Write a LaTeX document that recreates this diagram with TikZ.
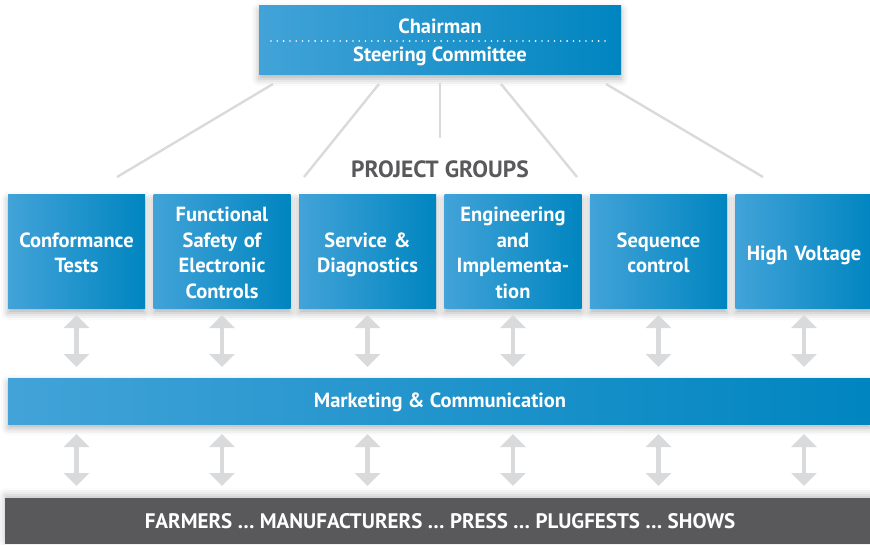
\documentclass[tikz,border=0pt]{standalone}
\usepackage{fontspec}
\setmainfont{PT Sans}
\usetikzlibrary{arrows.meta,shadows.blur}
\definecolor{bluel}{HTML}{42A3D8}
\definecolor{bluer}{HTML}{0085C0}
\definecolor{lgray}{HTML}{D9DADB}
\definecolor{dgray}{HTML}{59595B}
\tikzset{
  bluebox/.style={rectangle, left color=bluel, right color=bluer, text=white,
    font=\bfseries\fontsize{20.5}{25.5}\selectfont, align=center, inner sep=0pt,
    blur shadow={shadow xshift=0pt, shadow yshift=-4pt, shadow blur radius=7pt, shadow opacity=30}},
  groupbox/.style={bluebox, minimum width=137pt, minimum height=114pt, text width=134pt,
    execute at begin node={\rule{0pt}{23.9pt}}, execute at end node=\strut},
  whitetext/.style={text=white, font=\bfseries\fontsize{20.5}{22}\selectfont, inner sep=0pt},
  branch/.style={draw=lgray, line width=2.4pt},
  dblarrow/.style={draw=lgray, line width=4.5pt, {Triangle[width=25pt,length=13pt]}-{Triangle[width=25pt,length=13pt]}},
}
\begin{document}
\begin{tikzpicture}[x=1pt,y=-1pt]
\useasboundingbox (0,0) rectangle (870,545);
% top box
\node[bluebox, minimum width=362pt, minimum height=69pt] (top) at (440,40.5) {};
\node[whitetext] (chair) at (440,26.5) {Chairman};
\node[whitetext] (steer) at (440,56) {Steering Committee};
\coordinate (dl) at (271,41);
\coordinate (dr) at (610,41);
\draw[white, line width=1.8pt, line cap=round, dash pattern=on 0pt off 6.3pt] (dl) -- (dr);
% project groups label
\node[text=dgray, font=\bfseries\fontsize{23.5}{25}\selectfont, inner sep=0pt] (pg) at (440,169) {PROJECT GROUPS};
% group boxes
\foreach \i/\t in {0/{Conformance\\Tests},1/{Functional\\Safety of\\Electronic\\Controls},2/{Service \&\\Diagnostics},3/{Engineering\\and\\Implementa-\\tion},4/{Sequence\\control},5/{High Voltage}}{
  \node[groupbox] (g\i) at ({76.5+145.5*\i},252) {\t};
}
% branch lines
\coordinate (b1s) at (273,84); \coordinate (b1e) at (117,177);
\coordinate (b2s) at (379,84); \coordinate (b2e) at (304,177);
\coordinate (b3s) at (440,83); \coordinate (b3e) at (440,138);
\coordinate (b4s) at (501,84); \coordinate (b4e) at (577,177);
\coordinate (b5s) at (606,84); \coordinate (b5e) at (763,177);
\foreach \k in {1,...,5}{\draw[branch] (b\k s) -- (b\k e);}
% marketing bar
\node[bluebox, minimum width=862pt, minimum height=46pt, anchor=north west] (mkt) at (8,378) {};
\node[whitetext] (mkttext) at (440,402) {Marketing \& Communication};
% bottom bar
\node[rectangle, fill=dgray, minimum width=870pt, minimum height=46pt, anchor=north west, inner sep=0pt,
  blur shadow={shadow xshift=0pt, shadow yshift=3pt, shadow blur radius=7pt, shadow opacity=25}] (bot) at (5,498) {};
\node[text=white, font=\bfseries\fontsize{21}{22}\selectfont, inner sep=0pt] (bottext) at (440,521) {FARMERS … MANUFACTURERS … PRESS … PLUGFESTS … SHOWS};
% arrows
\foreach \i in {0,...,5}{
  \coordinate (ua\i) at ({76.5+145.5*\i},315);
  \coordinate (ub\i) at ({76.5+145.5*\i},367);
  \coordinate (la\i) at ({76.5+145.5*\i},434);
  \coordinate (lb\i) at ({76.5+145.5*\i},486);
  \draw[dblarrow] (ua\i) -- (ub\i);
  \draw[dblarrow] (la\i) -- (lb\i);
}
\end{tikzpicture}
\end{document}
